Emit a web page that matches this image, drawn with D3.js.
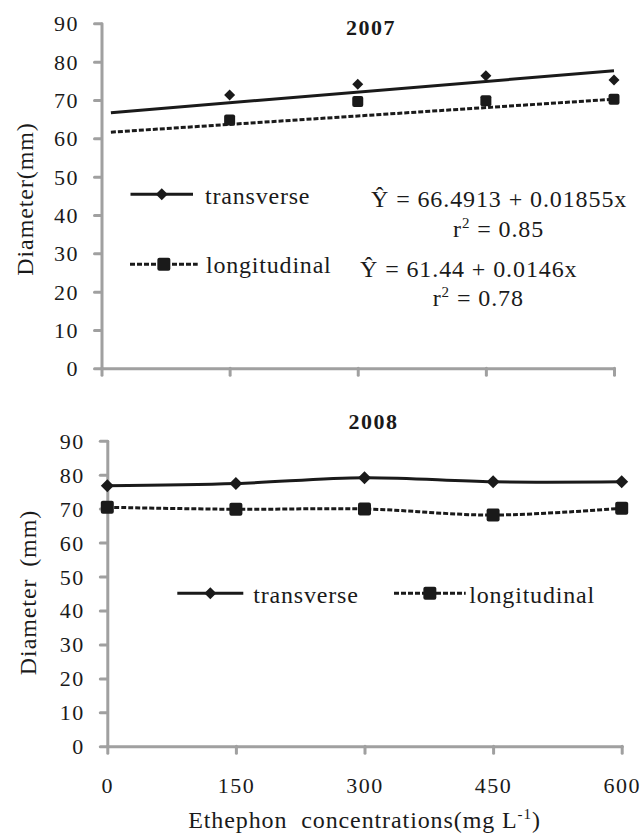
<!DOCTYPE html>
<html><head><meta charset="utf-8">
<script src="https://cdn.jsdelivr.net/npm/d3@7"></script>
<style>
body{margin:0;background:#fff;}
svg{display:block;}
text{font-family:"Liberation Serif","Times New Roman",serif;fill:#1a1a1a;}
</style></head><body>
<svg id="chart" width="643" height="838"></svg>
<script>
// ---------- data ----------
const concentrations = [0,150,300,450,600];
const xTickLabels = ["0","150","300","450","600"];
const yTickValues = [0,10,20,30,40,50,60,70,80,90];
const titles = ["2007","2008"];
const seriesNames = ["transverse","longitudinal"];
// 2007 observed means
const conc2007 = [150,300,450,600];
const transverse2007 = [71.3,74.1,76.3,75.2];
const longitudinal2007 = [64.8,69.6,69.8,70.2];
// 2007 regressions
const transverseFit = [66.4913,0.01855];
const longitudinalFit = [61.44,0.0146];
const fitRange = [11,600];
const eqTransverse = ["Ŷ = 66.4913 + 0.01855x","0.85"];
const eqLongitudinal = ["Ŷ = 61.44 + 0.0146x","0.78"];
// 2008 means
const transverse2008 = [76.7,77.4,79.1,77.9,77.9];
const longitudinal2008 = [70.4,69.8,69.9,68.1,70.1];

// ---------- styles ----------
const INK = "#1a1a1a", AXIS = "#a0a0a0";
const svg = d3.select("#chart");
const FONT = 22;

const diamond = {draw(ctx,size){const s=Math.sqrt(size)/2;ctx.moveTo(0,-s);ctx.lineTo(s,0);ctx.lineTo(0,s);ctx.lineTo(-s,0);ctx.closePath();}};

function drawAxes(g, x, y, showXLabels, yLabelText, yLabelX, yLabelY){
  const ya = d3.axisLeft(y).tickValues(yTickValues).tickSize(7).tickSizeOuter(0).tickPadding(15.5);
  const gy = g.append("g").attr("transform",`translate(${x.range()[0]},0)`).call(ya);
  const xa = d3.axisBottom(x).tickValues(concentrations).tickSize(7).tickSizeOuter(0)
     .tickFormat((d,i)=> showXLabels ? xTickLabels[i] : "");
  const gx = g.append("g").attr("transform",`translate(0,${y.range()[0]})`).call(xa);
  [gy,gx].forEach(a=>{
    a.attr("font-family",null);
    a.select(".domain").attr("stroke",AXIS).attr("stroke-width",3).attr("stroke-linecap","round");
    a.selectAll(".tick line").attr("stroke",AXIS).attr("stroke-width",3).attr("stroke-linecap","round");
    a.selectAll("text").attr("font-size",FONT).attr("fill",INK);
  });
  gy.selectAll(".tick text").attr("letter-spacing","1.5px").attr("dy","0.34em");
  gx.selectAll(".tick text").attr("letter-spacing","1.5px").attr("y",46.3).attr("dy",0);
  g.append("text").attr("transform",`translate(${yLabelX},${yLabelY}) rotate(-90)`)
    .attr("text-anchor","middle").attr("font-size",24).attr("letter-spacing","0.9px")
    .attr("word-spacing","5px").text(yLabelText);
}

function squareMarks(g, data, x, y, s){
  g.selectAll(null).data(data).enter().append("rect")
   .attr("x",d=>x(d[0])-s/2).attr("y",d=>y(d[1])-s/2).attr("width",s).attr("height",s)
   .attr("rx",2).attr("fill",INK);
}
function diamondMarks(g, data, x, y, s){
  g.selectAll(null).data(data).enter().append("path")
   .attr("d",d3.symbol(diamond, s*s)).attr("transform",d=>`translate(${x(d[0])},${y(d[1])})`)
   .attr("fill",INK);
}

function legendItem(g, x0, x1, ly, dashed, marker, textX, textY, label){
  g.append("line").attr("x1",x0).attr("x2",x1).attr("y1",ly).attr("y2",ly)
   .attr("stroke",INK).attr("stroke-width",3).attr("stroke-dasharray",dashed?"5,2":null);
  const mx = (x0+x1)/2;
  if(marker==="diamond") g.append("path").attr("d",d3.symbol(diamond,12*12)).attr("transform",`translate(${mx},${ly})`).attr("fill",INK);
  else g.append("rect").attr("x",mx-6.5).attr("y",ly-6.5).attr("width",13).attr("height",13).attr("rx",2).attr("fill",INK);
  g.append("text").attr("x",textX).attr("y",textY).attr("font-size",24).attr("letter-spacing","0.8px").text(label);
}

function eqText(g, x, y, str){
  g.append("text").attr("x",x).attr("y",y).attr("font-size",24).attr("letter-spacing","0.9px").text(str);
}
function r2Text(g, x, y, val){
  const t = g.append("text").attr("x",x).attr("y",y).attr("font-size",24).attr("letter-spacing","0.9px");
  t.append("tspan").text("r");
  t.append("tspan").attr("font-size",15).attr("dy",-9).text("2");
  t.append("tspan").attr("dy",9).text(" = " + val);
}

// ---------- 2007 panel ----------
{
  const g = svg.append("g");
  const x = d3.scaleLinear().domain([0,600]).range([101.5,614]);
  const y = d3.scaleLinear().domain([0,90]).range([368.3,23.3]);
  drawAxes(g, x, y, false, "Diameter(mm)", 33, 199);
  g.append("text").attr("x",371).attr("y",35).attr("text-anchor","middle").attr("font-size",22)
   .attr("font-weight","bold").attr("letter-spacing","1.5px").text(titles[0]);
  const line = d3.line().x(d=>x(d[0])).y(d=>y(d[1]));
  const fit = (p)=> fitRange.map(c=>[c, p[0]+p[1]*c]);
  g.append("path").attr("d",line(fit(transverseFit))).attr("fill","none").attr("stroke",INK).attr("stroke-width",3);
  g.append("path").attr("d",line(fit(longitudinalFit))).attr("fill","none").attr("stroke",INK).attr("stroke-width",3).attr("stroke-dasharray","5,2");
  diamondMarks(g, conc2007.map((c,i)=>[c,transverse2007[i]]), x, y, 11);
  squareMarks(g, conc2007.map((c,i)=>[c,longitudinal2007[i]]), x, y, 11);
  legendItem(g, 130.5, 193, 194.3, false, "diamond", 205, 204, seriesNames[0]);
  legendItem(g, 130, 197.7, 264.3, true, "square", 206, 273.3, seriesNames[1]);
  eqText(g, 371, 206.5, eqTransverse[0]);
  r2Text(g, 453, 237, eqTransverse[1]);
  eqText(g, 360, 276.7, eqLongitudinal[0]);
  r2Text(g, 432.7, 305.5, eqLongitudinal[1]);
}

// ---------- 2008 panel ----------
{
  const g = svg.append("g");
  const x = d3.scaleLinear().domain([0,600]).range([107.3,621.7]);
  const y = d3.scaleLinear().domain([0,90]).range([746.3,440.7]);
  drawAxes(g, x, y, true, "Diameter (mm)", 36, 592.5);
  g.append("text").attr("x",373.4).attr("y",429).attr("text-anchor","middle").attr("font-size",22)
   .attr("font-weight","bold").attr("letter-spacing","1.5px").text(titles[1]);
  const line = d3.line().x(d=>x(d[0])).y(d=>y(d[1])).curve(d3.curveCatmullRom);
  const tData = concentrations.map((c,i)=>[c,transverse2008[i]]);
  const lData = concentrations.map((c,i)=>[c,longitudinal2008[i]]);
  g.append("path").attr("d",line(tData)).attr("fill","none").attr("stroke",INK).attr("stroke-width",3);
  g.append("path").attr("d",line(lData)).attr("fill","none").attr("stroke",INK).attr("stroke-width",3).attr("stroke-dasharray","5,2");
  diamondMarks(g, tData, x, y, 13);
  squareMarks(g, lData, x, y, 13);
  legendItem(g, 177.3, 243.3, 593.3, false, "diamond", 253.3, 603.3, seriesNames[0]);
  legendItem(g, 394, 465.7, 593.3, true, "square", 469.3, 603.3, seriesNames[1]);
  // x-axis title
  const t = g.append("text").attr("x",364.5).attr("y",828).attr("text-anchor","middle")
    .attr("font-size",24).attr("letter-spacing","0.9px").attr("xml:space","preserve");
  t.append("tspan").text("Ethephon  concentrations(mg L");
  t.append("tspan").attr("font-size",15).attr("dy",-9).text("-1");
  t.append("tspan").attr("dy",9).text(")");
}
</script>
</body></html>
